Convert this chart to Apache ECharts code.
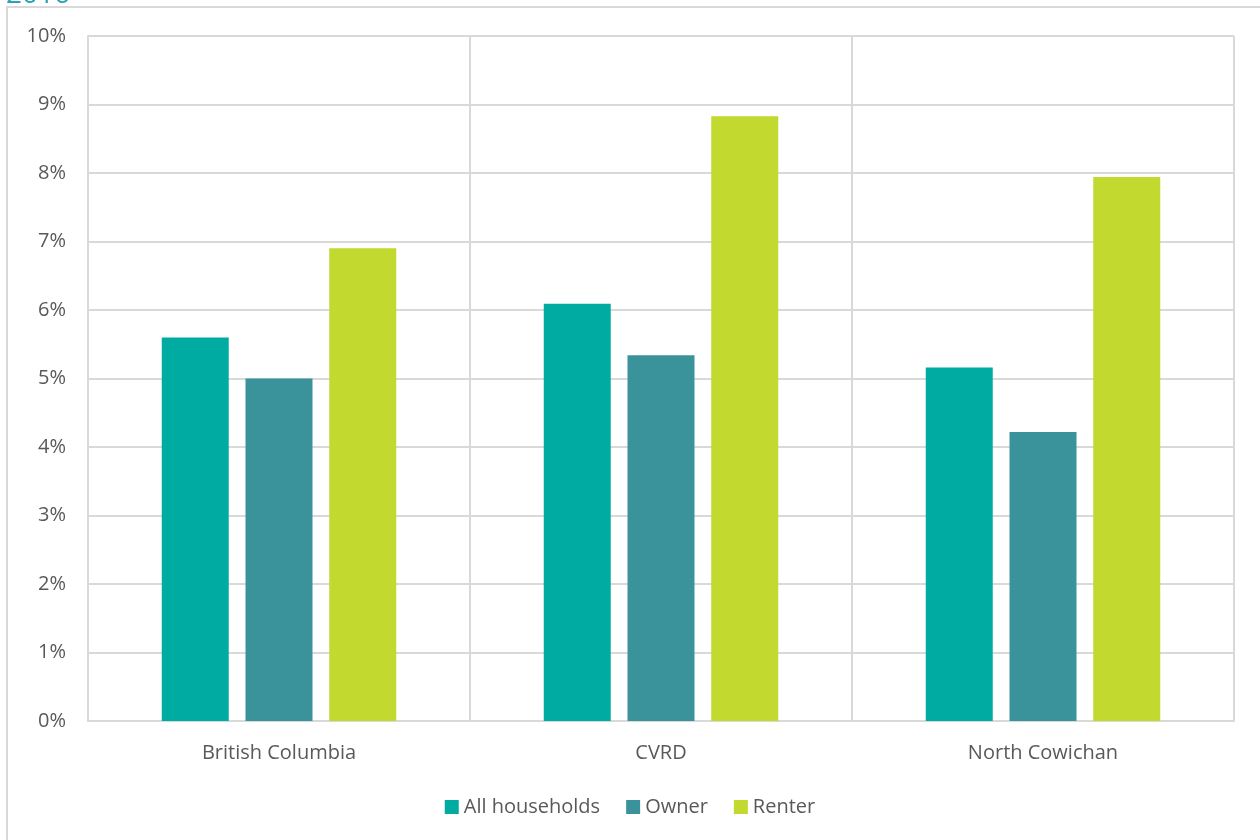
<!DOCTYPE html>
<html>
<head>
<meta charset="utf-8">
<script src="https://cdn.jsdelivr.net/npm/echarts@6/dist/echarts.min.js"></script>
<style>
  html, body { margin: 0; padding: 0; background: #ffffff; }
  #chart { width: 1260px; height: 840px; }
</style>
</head>
<body>
<div id="chart"></div>
<script>
// Share of households, by tenure, for each region (percent)
const regions = ['British Columbia', 'CVRD', 'North Cowichan'];
const allHouseholds = [5.6, 6.09, 5.16];
const owner = [5.0, 5.34, 4.22];
const renter = [6.9, 8.83, 7.94];
const yTicks = [0, 1, 2, 3, 4, 5, 6, 7, 8, 9, 10];

const FONT = '"Open Sans", "Noto Sans", sans-serif';
const TEXT = '#595959';
const GRID = '#d9d9d9';

const chart = echarts.init(document.getElementById('chart'), null, { renderer: 'canvas' });

chart.setOption({
  animation: false,
  backgroundColor: '#ffffff',
  textStyle: { fontFamily: FONT },
  graphic: [
    // outer chart frame, running off the right and bottom edges
    {
      type: 'rect',
      shape: { x: 7, y: 7, width: 1300, height: 900 },
      style: { fill: 'none', stroke: GRID, lineWidth: 2 },
      silent: true
    },
    // heading above the frame, mostly outside the page
    {
      type: 'text',
      x: 6,
      y: -19,
      style: { text: '2016', fill: '#2ba3b3', font: '28px ' + FONT, verticalAlign: 'top' },
      silent: true
    }
  ],
  grid: { left: 88, right: 26, top: 36, bottom: 119, containLabel: false },
  legend: {
    data: ['All households', 'Owner', 'Renter'],
    bottom: 18,
    left: 'center',
    itemWidth: 14,
    itemHeight: 14,
    itemGap: 26,
    icon: 'rect',
    textStyle: { color: TEXT, fontSize: 20, fontFamily: FONT }
  },
  xAxis: {
    type: 'category',
    data: regions,
    axisLine: { show: true, lineStyle: { color: GRID, width: 2 } },
    axisTick: { show: false },
    splitLine: { show: true, lineStyle: { color: GRID, width: 2 } },
    axisLabel: { color: TEXT, fontSize: 20, margin: 22, fontFamily: FONT }
  },
  yAxis: {
    type: 'value',
    min: yTicks[0],
    max: yTicks[yTicks.length - 1],
    interval: 1,
    axisLine: { show: true, lineStyle: { color: GRID, width: 2 } },
    axisTick: { show: false },
    splitLine: { show: true, lineStyle: { color: GRID, width: 2 } },
    axisLabel: {
      color: TEXT, fontSize: 20, margin: 22, formatter: v => v + '%', fontFamily: FONT,
      padding: [4, 0, 0, 0]
    }
  },
  series: [
    { name: 'All households', type: 'bar', data: allHouseholds, barWidth: 67, barGap: '25%',
      itemStyle: { color: '#00aca2' } },
    { name: 'Owner', type: 'bar', data: owner, barWidth: 67, barGap: '25%',
      itemStyle: { color: '#3a939b' } },
    { name: 'Renter', type: 'bar', data: renter, barWidth: 67, barGap: '25%',
      itemStyle: { color: '#c2d92f' } }
  ]
});
</script>
</body>
</html>
